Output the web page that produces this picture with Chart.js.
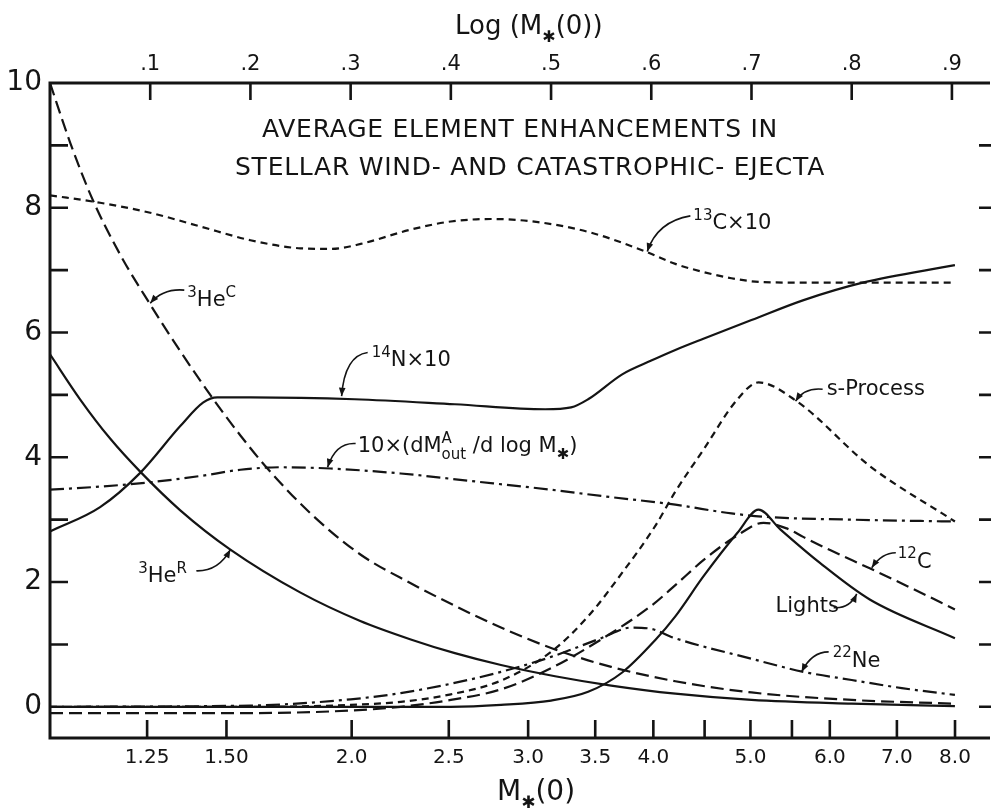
<!DOCTYPE html>
<html>
<head>
<meta charset="utf-8">
<script src="https://cdn.jsdelivr.net/npm/chart.js@4.4.1/dist/chart.umd.min.js"></script>
<style>
  html, body { margin: 0; padding: 0; background: #fff; }
</style>
</head>
<body>
<canvas id="chart1" width="991" height="808"></canvas>
<script>
var heCx = [0, 0.02, 0.042, 0.07, 0.1, 0.13, 0.163, 0.19, 0.217, 0.26, 0.309, 0.36, 0.404, 0.45, 0.504, 0.56, 0.624, 0.7, 0.8, 0.903];
var heCy = [10.0, 9.05, 8.15, 7.25, 6.45, 5.7, 4.93, 4.35, 3.82, 3.1, 2.45, 1.98, 1.62, 1.27, 0.92, 0.64, 0.41, 0.23, 0.11, 0.05];

var heRx = [0, 0.03, 0.06, 0.09, 0.13, 0.18, 0.25, 0.309, 0.36, 0.404, 0.45, 0.504, 0.56, 0.624, 0.7, 0.8, 0.903];
var heRy = [5.65, 4.93, 4.3, 3.77, 3.15, 2.52, 1.83, 1.38, 1.08, 0.86, 0.67, 0.49, 0.34, 0.21, 0.11, 0.05, 0.01];

var n14x = [0, 0.05, 0.09, 0.13, 0.153, 0.167, 0.2, 0.304, 0.404, 0.494, 0.52, 0.537, 0.571, 0.6, 0.624, 0.652, 0.7, 0.752, 0.811, 0.903];
var n14y = [2.81, 3.2, 3.75, 4.5, 4.88, 4.96, 4.96, 4.93, 4.85, 4.77, 4.8, 4.93, 5.33, 5.55, 5.72, 5.9, 6.2, 6.52, 6.8, 7.08];

var c13x = [0, 0.05, 0.1, 0.15, 0.2, 0.25, 0.28, 0.31, 0.36, 0.4, 0.44, 0.487, 0.54, 0.594, 0.624, 0.652, 0.68, 0.709, 0.75, 0.903];
var c13y = [8.2, 8.08, 7.92, 7.7, 7.48, 7.35, 7.34, 7.42, 7.65, 7.78, 7.82, 7.77, 7.6, 7.3, 7.1, 6.97, 6.87, 6.81, 6.8, 6.8];

var dmx = [0, 0.05, 0.1, 0.15, 0.19, 0.23, 0.28, 0.35, 0.42, 0.5, 0.55, 0.624, 0.68, 0.719, 0.8, 0.903];
var dmy = [3.48, 3.53, 3.6, 3.7, 3.8, 3.84, 3.82, 3.74, 3.62, 3.48, 3.38, 3.24, 3.1, 3.04, 3.0, 2.97];

var spx = [0, 0.2, 0.3, 0.35, 0.4, 0.45, 0.5, 0.537, 0.571, 0.604, 0.624, 0.652, 0.686, 0.707, 0.745, 0.818, 0.903];
var spy = [0, 0, 0.03, 0.08, 0.2, 0.42, 0.88, 1.45, 2.15, 2.9, 3.45, 4.12, 4.93, 5.2, 4.9, 3.86, 2.97];

var c12x = [0, 0.2, 0.3, 0.35, 0.4, 0.45, 0.5, 0.55, 0.6, 0.624, 0.652, 0.686, 0.712, 0.735, 0.752, 0.78, 0.818, 0.86, 0.903];
var c12y = [-0.1, -0.1, -0.06, 0, 0.11, 0.28, 0.62, 1.08, 1.62, 1.95, 2.35, 2.75, 2.95, 2.86, 2.72, 2.5, 2.22, 1.9, 1.56];

var lightx = [0, 0.3, 0.4, 0.45, 0.5, 0.537, 0.571, 0.604, 0.624, 0.652, 0.686, 0.707, 0.729, 0.768, 0.818, 0.903];
var lighty = [0, 0, 0, 0.03, 0.1, 0.24, 0.55, 1.07, 1.45, 2.09, 2.79, 3.16, 2.84, 2.31, 1.72, 1.1];

var ne22x = [0, 0.2, 0.3, 0.35, 0.4, 0.45, 0.5, 0.55, 0.58, 0.6, 0.62, 0.7, 0.752, 0.8, 0.85, 0.903];
var ne22y = [0, 0.02, 0.12, 0.22, 0.37, 0.56, 0.8, 1.1, 1.27, 1.25, 1.12, 0.77, 0.56, 0.43, 0.3, 0.19];

var massTicks = [1.25, 1.5, 2, 2.5, 3, 3.5, 4, 4.5, 5, 5.5, 6, 7, 8];
var massLabels = ['1.25', '1.50', '2.0', '2.5', '3.0', '3.5', '4.0', '', '5.0', '', '6.0', '7.0', '8.0'];
var logTicks = [0.1, 0.2, 0.3, 0.4, 0.5, 0.6, 0.7, 0.8, 0.9];
var logLabels = ['.1', '.2', '.3', '.4', '.5', '.6', '.7', '.8', '.9'];
var yTicks = [0, 2, 4, 6, 8, 10];
var yLabels = ['0', '2', '4', '6', '8', '10'];
var yMinor = [1, 2, 3, 4, 5, 6, 7, 8, 9];
var yRight = [0, 1, 2, 3, 4, 5, 6, 7, 8, 9];

var FONT = "'DejaVu Sans', sans-serif";
var INK = '#141414';
var LONG = [13, 6], SHORT = [7, 5], DASHDOT = [14, 5, 3, 5];

function pts(xs, ys) {
    return xs.map(function (x, i) { return { x: x, y: ys[i] }; });
}

function series(label, xs, ys, dash) {
    return {
        label: label,
        data: pts(xs, ys),
        borderColor: INK,
        borderWidth: 2.2,
        borderDash: dash,
        pointRadius: 0,
        fill: false,
        cubicInterpolationMode: 'monotone'
    };
}

// text with super/subscripts: [text, 'sup'|'sub'|'', noAdvance]
function drawRich(ctx, x, y, parts, main, small) {
    var cx = x;
    parts.forEach(function (p) {
        var size = p[1] === '' ? main : small;
        var dy = p[1] === 'sup' ? -main * 0.45 : (p[1] === 'sub' ? main * 0.3 : 0);
        ctx.font = size + 'px ' + FONT;
        ctx.fillText(p[0], cx, y + dy);
        if (!p[2]) cx += ctx.measureText(p[0]).width;
    });
}

var notes = [
    { parts: [['3', 'sup'], ['He', ''], ['C', 'sup']], at: [0.137, 6.42], from: [0.134, 6.68], ctrl: [0.113, 6.71], to: [0.1, 6.47] },
    { parts: [['14', 'sup'], ['N×10', '']], at: [0.321, 5.46], from: [0.317, 5.68], ctrl: [0.294, 5.63], to: [0.291, 4.98] },
    { parts: [['13', 'sup'], ['C×10', '']], at: [0.642, 7.66], from: [0.639, 7.87], ctrl: [0.606, 7.78], to: [0.596, 7.3] },
    { parts: [['s-Process', '']], at: [0.775, 5.0], from: [0.771, 5.09], ctrl: [0.753, 5.12], to: [0.744, 4.9] },
    { parts: [['10×(dM', ''], ['A', 'sup', true], ['out', 'sub'], [' /d log M', ''], ['✱', 'sub'], [')', '']], at: [0.307, 4.08], from: [0.305, 4.22], ctrl: [0.285, 4.24], to: [0.277, 3.84] },
    { parts: [['3', 'sup'], ['He', ''], ['R', 'sup']], at: [0.088, 2.0], from: [0.146, 2.18], ctrl: [0.168, 2.17], to: [0.18, 2.52] },
    { parts: [['12', 'sup'], ['C', '']], at: [0.846, 2.23], from: [0.844, 2.47], ctrl: [0.83, 2.47], to: [0.82, 2.23] },
    { parts: [['Lights', '']], at: [0.724, 1.52], from: [0.782, 1.59], ctrl: [0.798, 1.57], to: [0.805, 1.81] },
    { parts: [['22', 'sup'], ['Ne', '']], at: [0.781, 0.64], from: [0.777, 0.88], ctrl: [0.76, 0.88], to: [0.75, 0.56] }
];

var framePlugin = {
    id: 'frame',
    afterDraw: function (chart) {
        var ctx = chart.ctx;
        var a = chart.chartArea;
        var xs = chart.scales.x, ys = chart.scales.y;
        ctx.save();
        ctx.strokeStyle = INK;
        ctx.fillStyle = INK;
        ctx.lineCap = 'butt';
        ctx.setLineDash([]);

        // axis lines: left, top, bottom (no right line)
        ctx.lineWidth = 3;
        ctx.beginPath();
        ctx.moveTo(a.right, a.top); ctx.lineTo(a.left, a.top); ctx.lineTo(a.left, a.bottom); ctx.lineTo(a.right, a.bottom);
        ctx.stroke();

        // inward ticks
        ctx.lineWidth = 2.6;
        ctx.beginPath();
        logTicks.forEach(function (v) {
            var px = xs.getPixelForValue(v);
            ctx.moveTo(px, a.top); ctx.lineTo(px, a.top + 17);
        });
        massTicks.forEach(function (m) {
            var px = xs.getPixelForValue(Math.log10(m));
            ctx.moveTo(px, a.bottom); ctx.lineTo(px, a.bottom - 18);
        });
        yMinor.forEach(function (v) {
            var py = ys.getPixelForValue(v);
            ctx.moveTo(a.left, py); ctx.lineTo(a.left + 18, py);
        });
        yRight.forEach(function (v) {
            var py = ys.getPixelForValue(v);
            ctx.moveTo(chart.width - 12, py); ctx.lineTo(chart.width, py);
        });
        ctx.stroke();

        // heading inside the plot
        ctx.textAlign = 'left';
        ctx.textBaseline = 'alphabetic';
        [['AVERAGE ELEMENT ENHANCEMENTS IN', 262, 137, 516],
         ['STELLAR WIND- AND CATASTROPHIC- EJECTA', 235, 175, 590]].forEach(function (l) {
            ctx.font = '25px ' + FONT;
            ctx.letterSpacing = '0px';
            var w = ctx.measureText(l[0]).width;
            ctx.letterSpacing = ((l[3] - w) / l[0].length) + 'px';
            ctx.fillText(l[0], l[1], l[2]);
        });
        ctx.letterSpacing = '0px';

        // axis titles
        drawRich(ctx, 455, 34, [['Log (M', ''], ['✱', 'sub'], ['(0))', '']], 26, 16);
        drawRich(ctx, 497, 800, [['M', ''], ['✱', 'sub'], ['(0)', '']], 28, 17);

        // curve labels with curved arrows
        ctx.lineWidth = 1.6;
        notes.forEach(function (n) {
            drawRich(ctx, xs.getPixelForValue(n.at[0]), ys.getPixelForValue(n.at[1]), n.parts, 21, 15);
            var fx = xs.getPixelForValue(n.from[0]), fy = ys.getPixelForValue(n.from[1]);
            var cx = xs.getPixelForValue(n.ctrl[0]), cy = ys.getPixelForValue(n.ctrl[1]);
            var tx = xs.getPixelForValue(n.to[0]), ty = ys.getPixelForValue(n.to[1]);
            ctx.beginPath();
            ctx.moveTo(fx, fy);
            ctx.quadraticCurveTo(cx, cy, tx, ty);
            ctx.stroke();
            var ang = Math.atan2(ty - cy, tx - cx);
            ctx.beginPath();
            ctx.moveTo(tx, ty);
            ctx.lineTo(tx - 9 * Math.cos(ang - 0.38), ty - 9 * Math.sin(ang - 0.38));
            ctx.lineTo(tx - 9 * Math.cos(ang + 0.38), ty - 9 * Math.sin(ang + 0.38));
            ctx.closePath();
            ctx.fill();
        });
        ctx.restore();
    }
};

Chart.defaults.font.family = FONT;
Chart.defaults.color = INK;

new Chart(document.getElementById('chart1').getContext('2d'), {
    type: 'line',
    data: {
        datasets: [
            series('3He C', heCx, heCy, LONG),
            series('3He R', heRx, heRy, []),
            series('14N x10', n14x, n14y, []),
            series('13C x10', c13x, c13y, SHORT),
            series('10 x dM/dlogM', dmx, dmy, DASHDOT),
            series('s-Process', spx, spy, SHORT),
            series('12C', c12x, c12y, LONG),
            series('Lights', lightx, lighty, []),
            series('22Ne', ne22x, ne22y, DASHDOT)
        ]
    },
    options: {
        responsive: false,
        animation: false,
        layout: { padding: { left: 0, right: 1, top: 0, bottom: 0 } },
        plugins: { legend: { display: false }, tooltip: { enabled: false } },
        scales: {
            x: {
                type: 'linear', position: 'bottom', min: 0, max: 0.938,
                afterBuildTicks: function (s) { s.ticks = massTicks.map(function (m) { return { value: Math.log10(m) }; }); },
                afterFit: function (s) { s.height = 70; },
                ticks: {
                    autoSkip: false, maxRotation: 0, padding: 8,
                    font: { size: 20 },
                    callback: function (v, i) { return massLabels[i]; }
                },
                grid: { display: false, drawTicks: false },
                border: { display: false }
            },
            x2: {
                type: 'linear', position: 'top', min: 0, max: 0.938,
                afterBuildTicks: function (s) { s.ticks = logTicks.map(function (v) { return { value: v }; }); },
                afterFit: function (s) { s.height = 83; },
                ticks: {
                    autoSkip: false, maxRotation: 0, padding: 6,
                    font: { size: 21 },
                    callback: function (v, i) { return logLabels[i]; }
                },
                grid: { display: false, drawTicks: false },
                border: { display: false }
            },
            y: {
                type: 'linear', position: 'left', min: -0.5, max: 10,
                afterBuildTicks: function (s) { s.ticks = yTicks.map(function (v) { return { value: v }; }); },
                afterFit: function (s) { s.width = 50; },
                ticks: {
                    padding: 8,
                    font: { size: 28 },
                    callback: function (v, i) { return yLabels[i]; }
                },
                grid: { display: false, drawTicks: false },
                border: { display: false }
            }
        }
    },
    plugins: [framePlugin]
});
</script>
</body>
</html>
